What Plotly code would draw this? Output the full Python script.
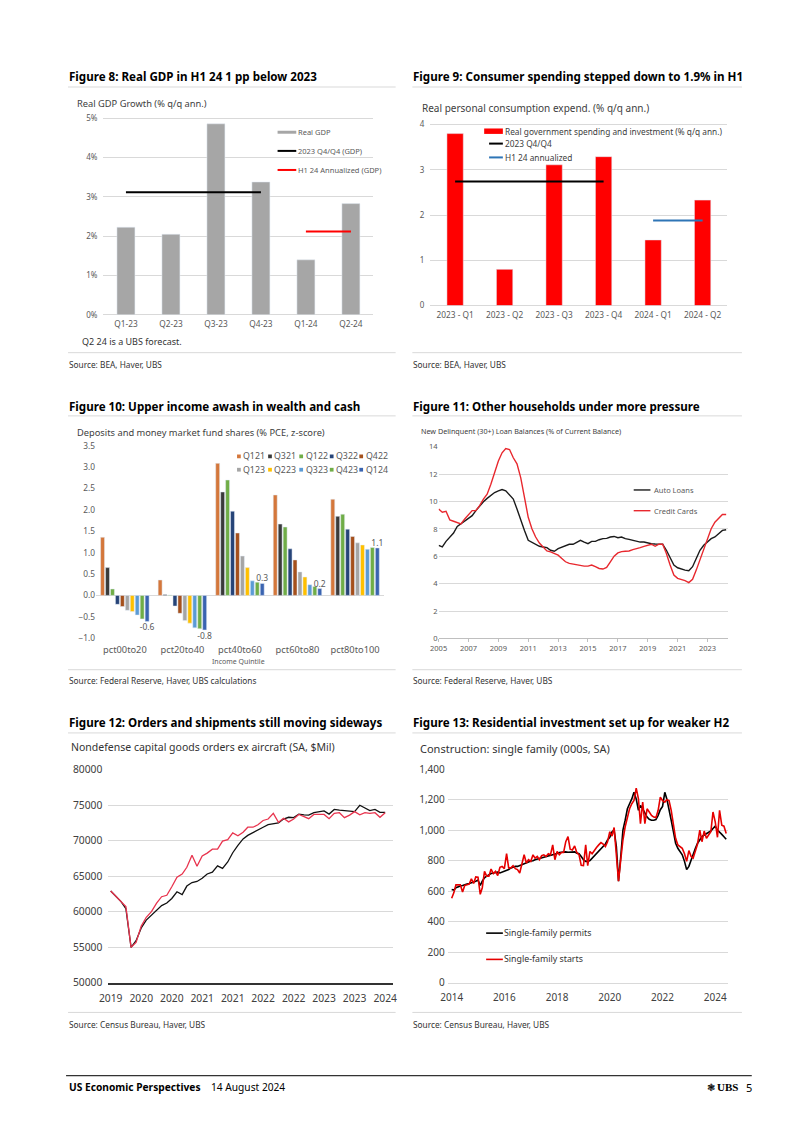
import plotly.graph_objects as go
import pandas as pd

# ---------------- DATA ----------------
# Figure 8: Real GDP growth (% q/q ann.)
gdp_quarters = ["Q1-23", "Q2-23", "Q3-23", "Q4-23", "Q1-24", "Q2-24"]
gdp_values = [2.23, 2.05, 4.86, 3.38, 1.40, 2.83]
gdp_2023_q4q4 = 3.12
gdp_h1_24 = 2.12

# Figure 9: Real PCE (% q/q ann.)
pce_quarters = ["2023 - Q1", "2023 - Q2", "2023 - Q3", "2023 - Q4", "2024 - Q1", "2024 - Q2"]
pce_values = [3.80, 0.80, 3.11, 3.29, 1.45, 2.33]
pce_2023_q4q4 = 2.74
pce_h1_24 = 1.88

# Figure 10: Deposits and MMF shares (% PCE, z-score)
quintiles = ["pct00to20", "pct20to40", "pct40to60", "pct60to80", "pct80to100"]
q121 = [1.36, 0.36, 3.09, 2.35, 2.25]
q321 = [0.65, 0.02, 2.42, 1.67, 1.85]
q122 = [0.15, 0.01, 2.70, 1.60, 1.90]
q322 = [-0.21, -0.25, 1.97, 1.09, 1.55]
q422 = [-0.26, -0.42, 1.46, 0.83, 1.38]
q123 = [-0.35, -0.59, 0.92, 0.55, 1.23]
q223 = [-0.38, -0.65, 0.65, 0.43, 1.18]
q323 = [-0.46, -0.76, 0.34, 0.25, 1.08]
q423 = [-0.55, -0.78, 0.31, 0.21, 1.12]
q124 = [-0.61, -0.81, 0.28, 0.16, 1.11]
dep_names = ["Q121", "Q321", "Q122", "Q322", "Q422", "Q123", "Q223", "Q323", "Q423", "Q124"]

# Figure 11: New delinquent (30+) loan balances, quarterly from 2005Q1
auto_loans = [6.80, 6.68, 7.09, 7.36, 7.70, 8.18, 8.37, 8.56, 8.73, 8.97, 9.34, 9.70,
              9.99, 10.23, 10.47, 10.66, 10.78, 10.88, 10.78, 10.50, 10.18, 9.46, 8.61, 7.89,
              7.17, 7.04, 6.85, 6.73, 6.68, 6.63, 6.44, 6.37, 6.56, 6.68, 6.78, 6.88,
              6.88, 7.02, 7.17, 7.04, 6.92, 7.09, 7.09, 7.21, 7.29, 7.31, 7.41, 7.45,
              7.36, 7.41, 7.29, 7.24, 7.17, 7.12, 7.04, 7.04, 6.97, 6.92, 6.90, 6.90,
              6.88, 6.44, 5.84, 5.36, 5.16, 5.07, 4.99, 4.95, 5.24, 5.84, 6.44, 6.80,
              7.04, 7.29, 7.41, 7.65, 7.89, 7.94]
credit_cards = [9.46, 9.22, 9.29, 8.66, 8.56, 8.47, 8.37, 8.73, 9.05, 9.34, 9.34, 9.70,
                10.18, 10.54, 11.27, 12.11, 12.96, 13.56, 13.87, 13.80, 13.20, 12.76, 11.75, 10.30,
                8.85, 8.01, 7.41, 6.97, 6.68, 6.39, 6.32, 6.20, 6.08, 5.84, 5.60, 5.48,
                5.43, 5.36, 5.31, 5.28, 5.28, 5.36, 5.24, 5.11, 5.07, 5.19, 5.60, 6.01,
                6.25, 6.34, 6.37, 6.39, 6.49, 6.54, 6.63, 6.73, 6.80, 6.88, 6.73, 6.88,
                6.88, 6.20, 5.36, 4.63, 4.39, 4.32, 4.22, 4.08, 4.32, 4.99, 5.72, 6.56,
                7.29, 8.01, 8.49, 8.81, 9.05, 9.05]

# Figure 12: Nondefense capital goods ex aircraft, monthly from Dec 2019
cap_black = [62900, 62100, 61400, 60400, 54950, 55900, 57700, 58800, 59500, 60100, 60850, 61200,
             61850, 62800, 62400, 63600, 64100, 64250, 64700, 65300, 65550, 66450, 66100, 67000,
             68300, 69350, 70250, 70750, 71100, 71450, 71900, 72250, 72400, 72500, 73050, 73300,
             73250, 73750, 73650, 73600, 73950, 74100, 74200, 73750, 74400, 74300, 74200, 74100,
             74100, 75000, 74550, 74250, 74400, 74000, 74000]
cap_red = [62900, 62100, 61400, 60700, 54950, 55650, 57950, 59200, 60000, 61200, 62100, 62300,
           63500, 64850, 65300, 66250, 67950, 66400, 67850, 68250, 68800, 68800, 69950, 70150,
           71100, 70700, 71200, 71900, 71900, 72250, 72850, 73050, 73850, 72600, 73150, 72650,
           73050, 73700, 73400, 73100, 73700, 73750, 73700, 73100, 73850, 73950, 73250, 73600,
           74100, 73650, 73950, 73850, 73950, 73300, 73950]
cap_tickvals = ["2019-12-01", "2020-06-01", "2020-12-01", "2021-06-01", "2021-12-01",
                "2022-06-01", "2022-12-01", "2023-06-01", "2023-12-01", "2024-06-01"]
cap_ticktext = ["2019", "2020", "2020", "2021", "2021", "2022", "2022", "2023", "2023", "2024"]

# Figure 13: Single-family construction (000s, SA), monthly from Jan 2014
sf_permits = [611, 607, 622, 629, 633, 637, 644, 646, 650, 654, 659, 665,
              672, 637, 665, 687, 698, 708, 715, 719, 724, 724, 719, 724,
              730, 734, 741, 752, 758, 762, 762, 767, 773, 780, 784, 791,
              797, 799, 806, 810, 814, 816, 821, 823, 827, 832, 836, 842,
              847, 853, 855, 857, 857, 855, 857, 855, 857, 849, 845, 827,
              806, 795, 795, 801, 816, 832, 849, 866, 881, 896, 909, 935,
              953, 989, 1000, 892, 665, 827, 1000, 1065, 1140, 1173, 1205, 1248,
              1205, 1130, 1162, 1140, 1108, 1086, 1071, 1065, 1065, 1069, 1097, 1134,
              1156, 1248, 1205, 1140, 1065, 989, 914, 881, 860, 838, 795, 741,
              762, 806, 845, 881, 914, 940, 957, 968, 978, 983, 994, 1011,
              1026, 1000, 983, 972, 957, 940]
sf_starts = [553, 590, 641, 640, 641, 594, 637, 641, 646, 680, 650, 693,
             691, 579, 622, 730, 698, 698, 745, 715, 730, 702, 756, 762,
             747, 845, 752, 752, 767, 747, 741, 719, 773, 838, 784, 806,
             795, 838, 816, 827, 806, 832, 838, 827, 845, 838, 903, 806,
             860, 838, 853, 853, 924, 957, 875, 870, 896, 853, 838, 769,
             767, 903, 767, 860, 845, 870, 886, 903, 918, 909, 892, 924,
             989, 961, 1017, 838, 665, 806, 935, 1022, 1086, 1140, 1173, 1194,
             1276, 1205, 1043, 1184, 1043, 1140, 1119, 1097, 1086, 1082, 1130, 1216,
             1194, 1184, 1199, 1194, 1130, 1032, 946, 903, 892, 881, 845, 795,
             866, 827, 816, 860, 909, 1000, 924, 994, 946, 968, 989, 1119,
             1054, 953, 1130, 1032, 1026, 978]

# ---------------- STYLE / LAYOUT HELPERS ----------------
W, H = 802, 1134
FONT = "Noto Sans"
GRID = "#D9D9D9"
TICK = "#595959"


def X(px):
    return px / W


def Y(py):
    return 1 - py / H


def ydomain(v_a, py_a, v_b, py_b, r0, r1):
    k = (py_b - py_a) / (v_b - v_a)
    return [Y(py_a + (r0 - v_a) * k), Y(py_a + (r1 - v_a) * k)]


fig = go.Figure()
NO_HOVER = dict(hoverinfo="skip", showlegend=False)

# Figure 8
fig.add_trace(go.Bar(x=gdp_quarters, y=gdp_values, marker_color="#A6A6A6", width=0.4,
                     xaxis="x", yaxis="y", **NO_HOVER))
fig.add_trace(go.Scatter(x=[gdp_quarters[0], gdp_quarters[3]], y=[gdp_2023_q4q4] * 2, mode="lines",
                         line=dict(color="black", width=2), xaxis="x", yaxis="y", **NO_HOVER))
fig.add_trace(go.Scatter(x=[gdp_quarters[4], gdp_quarters[5]], y=[gdp_h1_24] * 2, mode="lines",
                         line=dict(color="#FF0000", width=2), xaxis="x", yaxis="y", **NO_HOVER))

# Figure 9
fig.add_trace(go.Bar(x=pce_quarters, y=pce_values, marker_color="#FF0000", width=0.33,
                     xaxis="x2", yaxis="y2", **NO_HOVER))
fig.add_trace(go.Scatter(x=[pce_quarters[0], pce_quarters[3]], y=[pce_2023_q4q4] * 2, mode="lines",
                         line=dict(color="black", width=2), xaxis="x2", yaxis="y2", **NO_HOVER))
fig.add_trace(go.Scatter(x=[pce_quarters[4], pce_quarters[5]], y=[pce_h1_24] * 2, mode="lines",
                         line=dict(color="#2E75B6", width=2), xaxis="x2", yaxis="y2", **NO_HOVER))

# Figure 10
dep_lists = [q121, q321, q122, q322, q422, q123, q223, q323, q423, q124]
dep_colors = ["#D4773B", "#3A3A3A", "#70AD47", "#264478", "#A5501C",
              "#A5A5A5", "#FFC000", "#5B9BD5", "#70AD47", "#3A64B0"]
for i, (nm, vals, col) in enumerate(zip(dep_names, dep_lists, dep_colors)):
    last = i == len(dep_names) - 1
    fig.add_trace(go.Bar(x=quintiles, y=vals, name=nm, marker_color=col,
                         text=[f"{v:.1f}" for v in vals] if last else None,
                         textposition="outside" if last else "none",
                         constraintext="none", cliponaxis=False,
                         textfont=dict(size=8.5, color=TICK),
                         xaxis="x3", yaxis="y3", **NO_HOVER))

# Figure 11
q_dates = pd.date_range("2005-01-01", periods=len(auto_loans), freq="QS")
fig.add_trace(go.Scatter(x=q_dates, y=auto_loans, mode="lines", line=dict(color="#1A1A1A", width=1.4),
                         xaxis="x4", yaxis="y4", **NO_HOVER))
fig.add_trace(go.Scatter(x=q_dates, y=credit_cards, mode="lines", line=dict(color="#E8282E", width=1.4),
                         xaxis="x4", yaxis="y4", **NO_HOVER))

# Figure 12
m_dates12 = pd.date_range("2019-12-01", periods=len(cap_black), freq="MS")
fig.add_trace(go.Scatter(x=m_dates12, y=cap_black, mode="lines", line=dict(color="#111111", width=1.3),
                         xaxis="x5", yaxis="y5", **NO_HOVER))
fig.add_trace(go.Scatter(x=m_dates12, y=cap_red, mode="lines", line=dict(color="#E8344E", width=1.3),
                         xaxis="x5", yaxis="y5", **NO_HOVER))

# Figure 13
m_dates13 = pd.date_range("2014-01-01", periods=len(sf_permits), freq="MS")
fig.add_trace(go.Scatter(x=m_dates13, y=sf_permits, mode="lines", line=dict(color="#000000", width=1.6),
                         xaxis="x6", yaxis="y6", **NO_HOVER))
fig.add_trace(go.Scatter(x=m_dates13, y=sf_starts, mode="lines", line=dict(color="#E60000", width=1.6),
                         xaxis="x6", yaxis="y6", **NO_HOVER))

small_tick = dict(size=8, color=TICK, family=FONT)
layout = dict(
    width=W, height=H, autosize=False,
    margin=dict(l=0, r=0, t=0, b=0),
    paper_bgcolor="white", plot_bgcolor="white",
    font=dict(family=FONT, color="#333333"),
    barmode="group", bargap=0.14, bargroupgap=0.2,
    showlegend=False,
    # Fig 8
    xaxis=dict(domain=[X(96), X(370.4)], anchor="y", type="category", range=[-0.5, 5.5],
               showgrid=False, showline=False, ticks="", ticklabelstandoff=3,
               tickfont=dict(size=8.3, color=TICK)),
    yaxis=dict(domain=ydomain(0, 311.7, 5, 112.7, 0, 5.03), anchor="x", range=[0, 5.03], dtick=1,
               ticksuffix="%", gridcolor=GRID, zeroline=True, zerolinecolor=GRID, zerolinewidth=1,
               tickfont=small_tick, ticks="", ticklabelstandoff=5),
    # Fig 9
    xaxis2=dict(domain=[X(428.3), X(730.2)], anchor="y2", type="category", range=[-0.5, 5.5],
                showgrid=False, showline=False, ticks="", ticklabelstandoff=3,
                tickfont=dict(size=8.3, color=TICK)),
    yaxis2=dict(domain=ydomain(0, 302.3, 4, 119, 0, 4.03), anchor="x2", range=[0, 4.03], dtick=1,
                gridcolor=GRID, zeroline=True, zerolinecolor=GRID, zerolinewidth=1,
                tickfont=small_tick, ticks="", ticklabelstandoff=5),
    # Fig 10
    xaxis3=dict(domain=[X(88.5), X(381)], anchor="y3", type="category", range=[-0.5, 4.5],
                showgrid=False, showline=False, ticks="", ticklabelstandoff=5,
                tickfont=dict(size=9.3, color=TICK)),
    yaxis3=dict(domain=ydomain(-1, 639, 3.5, 444.3, -1, 3.52), anchor="x3", range=[-1, 3.52],
                dtick=0.5, tickformat=".1f", showgrid=False, zeroline=True, zerolinecolor=GRID,
                zerolinewidth=1, tickfont=dict(size=8.3, color=TICK), ticks=""),
    # Fig 11
    xaxis4=dict(domain=[X(436.7), X(730.5)], anchor="y4", type="date",
                range=["2005-01-01", "2024-05-08"], dtick="M24", tick0="2005-01-01",
                tickformat="%Y", showgrid=False, showline=True, linecolor="#BFBFBF",
                ticks="outside", ticklen=3, tickcolor="#BFBFBF", tickfont=dict(size=7.5, color=TICK)),
    yaxis4=dict(domain=ydomain(0, 639.3, 14, 445.3, 0, 14.05), anchor="x4", range=[0, 14.05],
                dtick=2, gridcolor=GRID, zeroline=False, tickfont=dict(size=7.5, color=TICK), ticks=""),
    # Fig 12
    xaxis5=dict(domain=[X(101), X(390)], anchor="y5", type="date",
                range=["2019-11-17", "2024-07-16"], tickmode="array", tickvals=cap_tickvals,
                ticktext=cap_ticktext, showgrid=False, showline=True, linecolor="#333333",
                linewidth=1.6, ticks="", ticklabelstandoff=5, tickfont=dict(size=10.3, color="#404040")),
    yaxis5=dict(domain=ydomain(50000, 987.7, 80000, 772.3, 50000, 80080), anchor="x5",
                range=[50000, 80080], dtick=5000, tickformat="d", gridcolor=GRID, zeroline=False,
                tickfont=dict(size=10.3, color="#404040"), ticks="", ticklabelstandoff=5),
    # Fig 13
    xaxis6=dict(domain=[X(446), X(731)], anchor="y6", type="date",
                range=["2013-11-08", "2024-06-28"], dtick="M24", tick0="2014-01-01",
                tickformat="%Y", showgrid=False, showline=True, linecolor=GRID,
                ticks="", ticklabelstandoff=5, tickfont=dict(size=10, color="#404040")),
    yaxis6=dict(domain=ydomain(0, 987.7, 1400, 771.7, 0, 1405), anchor="x6", range=[0, 1405],
                dtick=200, tickformat=",", gridcolor=GRID, zeroline=False,
                tickfont=dict(size=10, color="#404040"), ticks="", ticklabelstandoff=2),
)
fig.update_layout(**layout)

annotations = []
shapes = []


def text(px, py, s, size, color="#333333", bold=False, anchor="left", family=FONT):
    annotations.append(dict(x=X(px), y=Y(py), xref="paper", yref="paper", text=f"<b>{s}</b>" if bold else s,
                            showarrow=False, xanchor=anchor, yanchor="middle",
                            font=dict(size=size, color=color, family=family), borderpad=0))


def hline(x0, x1, py, color=GRID, width=1):
    shapes.append(dict(type="line", xref="paper", yref="paper", x0=X(x0), x1=X(x1), y0=Y(py), y1=Y(py),
                       line=dict(color=color, width=width)))


def rect(x0, x1, y0, y1, color):
    shapes.append(dict(type="rect", xref="paper", yref="paper", x0=X(x0), x1=X(x1), y0=Y(y0), y1=Y(y1),
                       line=dict(width=0), fillcolor=color))


# Titles
TS = 11.6
text(60, 70, "Figure 8: Real GDP in H1 24 1 pp below 2023", TS, "#000000", bold=True)
text(410, 70, "Figure 9: Consumer spending stepped down to 1.9% in H1", TS, "#000000", bold=True)
text(60, 404, "Figure 10: Upper income awash in wealth and cash", TS, "#000000", bold=True)
text(410, 404, "Figure 11: Other households under more pressure", TS, "#000000", bold=True)
text(60, 724, "Figure 12: Orders and shipments still moving sideways", TS, "#000000", bold=True)
text(410, 724, "Figure 13: Residential investment set up for weaker H2", TS, "#000000", bold=True)
for y in (81, 414, 735):
    hline(60, 393, y)
    hline(410, 745, y)
for y in (350, 671, 1018):
    hline(60, 393, y)
    hline(410, 745, y)

# Subtitles
text(68, 97.7, "Real GDP Growth (% q/q ann.)", 9.3, "#404040")
text(419, 102, "Real personal consumption expend. (% q/q ann.)", 10, "#404040")
text(68, 431, "Deposits and money market fund shares (% PCE, z-score)", 9.3, "#404040")
text(418, 429, "New Delinquent (30+) Loan Balances (% of Current Balance)", 7.2, "#404040")
text(62, 749, "Nondefense capital goods orders ex aircraft (SA, $Mil)", 10.5, "#333333")
text(417, 750.7, "Construction: single family (000s, SA)", 11, "#333333")

# Notes & sources
text(73, 339, "Q2 24 is a UBS forecast.", 9, "#333333")
SS = 8.3
text(60, 362, "Source: BEA, Haver, UBS", SS)
text(410, 362, "Source: BEA, Haver, UBS", SS)
text(60, 681.7, "Source: Federal Reserve, Haver, UBS calculations", SS)
text(410, 681.7, "Source: Federal Reserve, Haver, UBS", SS)
text(60, 1030, "Source: Census Bureau, Haver, UBS", SS)
text(410, 1030, "Source: Census Bureau, Haver, UBS", SS)
text(233.3, 663, "Income Quintile", 7, TICK, anchor="center")

# Legend fig 8
rect(273, 292, 125.3, 128.3, "#A6A6A6")
hline(273, 292, 145.7, "#000000", 2)
hline(273, 292, 165, "#FF0000", 2)
text(293, 127, "Real GDP", 7.5, TICK)
text(293, 146, "2023 Q4/Q4 (GDP)", 7.5, TICK)
text(293, 165, "H1 24 Annualized (GDP)", 7.5, TICK)

# Legend fig 9
rect(483, 502, 123, 128.5, "#FF0000")
hline(488, 502, 138.3, "#000000", 2)
hline(488, 502, 152.3, "#2E75B6", 2)
text(503, 125.7, "Real government spending and investment (% q/q ann.)", 8.3, "#404040")
text(503, 138.3, "2023 Q4/Q4", 8.3, "#404040")
text(503, 152.3, "H1 24 annualized", 8.3, "#404040")

# Legend fig 10
leg_x = [233.7, 265.3, 297, 328, 358]
for i, (nm, col) in enumerate(zip(dep_names, dep_colors)):
    lx = leg_x[i % 5]
    ly = 455 if i < 5 else 468.5
    rect(lx - 1.9, lx + 1.9, ly - 1.9, ly + 1.9, col)
    text(lx + 3.5, ly, nm, 8.8, TICK)

# Legend fig 11
hline(635, 652, 489, "#1A1A1A", 1.4)
hline(635, 652, 510, "#E8282E", 1.4)
text(654.5, 489, "Auto Loans", 7.5, TICK)
text(654.5, 510, "Credit Cards", 7.5, TICK)

# Legend fig 13
hline(485, 502, 937.7, "#000000", 1.6)
hline(485, 502, 964.3, "#E60000", 1.6)
text(502.5, 937.7, "Single-family permits", 8.8, "#333333")
text(502.5, 964.3, "Single-family starts", 8.8, "#333333")

# Footer
hline(58, 755, 1082, "#333333", 1.3)
text(60, 1093.5, "US Economic Perspectives", 10.2, "#000000", bold=True)
text(204, 1093.5, "14 August 2024", 10.2, "#000000")
text(708, 1093.5, "\u2743", 10, "#000000")
text(719, 1093.5, "<b>UBS</b>", 11, "#000000", family="Liberation Serif")
text(748, 1093.5, "5", 11, "#000000")

fig.update_layout(annotations=annotations, shapes=shapes)
fig.write_html("out.html", config={"displayModeBar": False},
               post_script="document.body.style.margin='0';document.body.style.overflow='hidden';")
